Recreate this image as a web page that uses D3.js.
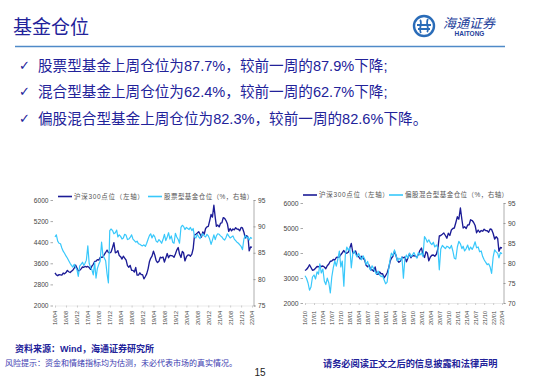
<!DOCTYPE html>
<html><head><meta charset="utf-8">
<script src="https://cdn.jsdelivr.net/npm/d3@7"></script>
<style>body{margin:0;background:#fff}svg{display:block}</style>
</head><body>
<svg id="c" width="550" height="380"></svg>
<script>
// ---------------- DATA ----------------
const titleText = "基金仓位";
const bullets = [
  "股票型基金上周仓位为87.7%，较前一周的87.9%下降;",
  "混合型基金上周仓位为62.4%，较前一周的62.7%下降;",
  "偏股混合型基金上周仓位为82.3%，较前一周的82.6%下降。"
];
// CSI300 (semi-monthly, starting 2016-04)
const csi300Start = "2016-04";
const csi300 = [
  3240,3160, 3130,3170, 3160,3150, 3230,3200, 3250,3330, 3280,3250, 3300,3340, 3420,3530, 3420,3310,
  3330,3390, 3460,3450, 3480,3460, 3480,3440, 3370,3490, 3560,3670, 3680,3740, 3720,3820, 3830,3840, 3930,4010, 4100,4010, 3990,4030,
  4200,4380, 4000,4020, 4080,3900, 3850,3760, 3870,3800, 3720,3510, 3450,3520, 3330,3330, 3270,3440, 3150,3150, 3240,3170, 3170,3010,
  3100,3200, 3400,3670, 3790,3870, 4060,3910, 3700,3630, 3680,3830, 3810,3840, 3650,3800, 3970,3810, 3900,3890, 3880,3830, 3950,4100,
  4200,3950, 3820,4050, 4000,3690, 3840,3910, 3920,3870, 3950,4160, 4680,4700, 4750,4800, 4700,4590, 4790,4700, 4920,4980, 5000,5210,
  5450,5350, 5800,5340, 5000,5050, 4980,5120, 5130,5330, 5300,5220, 5100,4810, 4920,4830, 4900,4870, 4950,4900, 4890,4830, 4960,4940,
  4780,4560, 4650,4580, 4070,4220, 4200
];
// Equity fund position % (semi-monthly, starting 2016-04)
const equityFundStart = "2016-04";
const equityFundPos = [
  88.0,88.4, 87.2,86.8, 86.7,85.9, 85.3,84.9, 84.4,84.0, 83.5,83.0, 82.6,82.3, 82.8,82.2, 81.8,80.5,
  82.5,82.8, 83.2,82.6, 83.0,83.6, 86.3,83.0, 82.2,81.8, 80.8,83.2, 80.2,82.0, 82.8,83.4, 87.0,84.5, 84.0,83.5, 81.0,79.3, 89.2,89.5,
  89.2,88.6, 88.8,89.3, 88.0,88.4, 88.1,87.6, 87.8,88.5, 88.3,87.5, 87.6,87.9, 88.4,87.6, 87.3,87.0, 87.2,86.7, 86.6,86.4, 86.3,86.5,
  86.2,86.8, 87.6,88.3, 88.6,87.8, 88.4,88.0, 87.2,87.0, 87.5,87.2, 86.8,87.5, 88.5,87.3, 88.0,88.8, 87.6,88.2, 87.0,86.8, 88.7,88.0,
  87.5,86.8, 89.8,90.2, 90.0,89.4, 89.8,89.6, 89.4,89.8, 89.2,89.6, 88.0,87.8, 88.5,88.0, 87.7,88.3, 88.6,88.2, 88.0,88.5, 88.2,87.6,
  86.6,87.4, 88.4,87.5, 88.2,88.6, 88.5,88.2, 88.0,87.6, 87.4,87.9, 88.6,88.2, 87.8,88.0, 88.2,87.6, 87.3,87.0, 86.8,86.5, 86.2,85.6,
  87.6,88.3, 87.8,88.0, 87.4,87.9, 87.7
];
// Equity-biased hybrid fund position % (semi-monthly, starting 2016-10)
const mixedFundStart = "2016-10";
const mixedFundPos = [
  76.8,76.2, 75.0,73.2, 74.0,76.5,
  77.0,76.0, 77.8,77.2, 79.8,77.5, 78.5,75.5, 74.6,76.2, 75.0,72.5, 76.5,78.8, 80.5,79.2, 81.0,83.0, 79.0,80.5, 74.2,82.0, 84.0,83.2,
  83.8,78.8, 82.5,83.0, 82.2,81.5, 82.4,81.6, 80.8,81.8, 81.0,79.6, 80.4,79.0, 78.2,79.3, 78.6,77.8, 77.2,78.0, 77.0,76.6, 76.8,75.8,
  74.8,75.2, 78.5,81.0, 82.5,81.8, 83.3,82.0, 80.5,81.2, 80.8,81.5, 76.2,81.0, 82.0,81.2, 82.5,81.6, 82.0,82.6, 81.8,81.2, 82.6,82.0,
  82.5,81.6, 86.6,86.0, 85.2,85.8, 85.0,84.6, 85.2,84.0, 84.5,83.8, 78.3,83.5, 84.4,84.0, 83.6,84.2, 84.0,83.6, 84.4,83.0, 81.2,81.0,
  84.0,85.4, 84.8,83.6, 84.2,83.0, 83.6,84.5, 83.2,84.0, 83.4,84.2, 85.3,83.8, 84.0,82.8, 83.0,81.6, 80.8,80.2, 79.6,79.8, 79.0,77.4,
  81.5,83.3, 82.8,82.4, 81.3,82.6, 82.3
];
const leftXLabels = ["16/04","16/08","16/12","17/04","17/08","17/12","18/04","18/08","18/12","19/04","19/08","19/12","20/04","20/08","20/12","21/04","21/08","21/12","22/04"];
const rightXLabels = ["16/10","17/01","17/04","17/07","17/10","18/01","18/04","18/07","18/10","19/01","19/04","19/07","19/10","20/01","20/04","20/07","20/10","21/01","21/04","21/07","21/10","22/01","22/04"];
const leftChartIndexTicks = [2000,2800,3600,4400,5200,6000];
const leftChartFundTicks = [75,80,85,90,95];
const rightChartIndexTicks = [2000,3000,4000,5000,6000];
const rightChartFundTicks = [70,75,80,85,90,95];
const legendIndex = "沪深300点位（左轴）";
const legendEquity = "股票型基金仓位（%，右轴）";
const legendMixed = "偏股混合型基金仓位（%，右轴）";
const sourceText = "资料来源：Wind，海通证券研究所";
const riskText = "风险提示：资金和情绪指标均为估测，未必代表市场的真实情况。";
const disclaimText = "请务必阅读正文之后的信息披露和法律声明";
const pageNo = "15";

// ---------------- HELPERS ----------------
const parseYM = d3.timeParse("%Y-%m");
const parseLbl = d3.timeParse("%y/%m");
function series(start, vals) {
  const s = parseYM(start);
  return vals.map((v, i) => {
    const m = d3.timeMonth.offset(s, Math.floor(i / 2));
    return { date: i % 2 ? d3.timeDay.offset(m, 15) : m, value: v };
  });
}
const NAVY = "#22229a";
const DARK = "#1c1c96";
const LIGHT = "#38c8fb";
const FONT = "'Liberation Sans','Noto Sans CJK SC',sans-serif";

const svg = d3.select("#c");

// ---------------- HEADER ----------------
svg.append("text").attr("x", 13).attr("y", 33.5).attr("font-family", FONT)
  .attr("font-size", 19).attr("fill", NAVY).text(titleText);
svg.append("line").attr("x1", 15).attr("x2", 505).attr("y1", 46.5).attr("y2", 46.5)
  .attr("stroke", "#4f8ac8").attr("stroke-width", 1.5);
// logo
const lg = svg.append("g").attr("transform", "translate(424,26)");
lg.append("circle").attr("r", 10).attr("fill", "none").attr("stroke", "#2a6cb8").attr("stroke-width", 2.4);
lg.append("path").attr("d", "M-7,-1 H7 M-4,-6 C-1,-3 -6,3 -3,7 M4,-7 C1,-3 6,3 3,6 M-6,3 H6")
  .attr("fill", "none").attr("stroke", "#2a6cb8").attr("stroke-width", 1.8);
svg.append("text").attr("x", 443).attr("y", 28).attr("font-family", FONT).attr("font-size", 13)
  .attr("font-style", "italic").attr("fill", "#23409a").text("海通证券");
svg.append("text").attr("x", 469.5).attr("y", 36).attr("text-anchor", "middle").attr("font-family", "'Liberation Sans',sans-serif")
  .attr("font-size", 6.5).attr("font-weight", "bold").attr("fill", "#23409a").text("HAITONG");

// ---------------- BULLETS ----------------
bullets.forEach((b, i) => {
  const y = 70.5 + i * 26.7;
  svg.append("text").attr("x", 19).attr("y", y - 1).attr("font-family", "'DejaVu Sans',sans-serif")
    .attr("font-size", 13).attr("font-weight", "bold").attr("fill", NAVY).text("✓");
  svg.append("text").attr("x", 38).attr("y", y).attr("font-family", FONT)
    .attr("font-size", 14.6).attr("fill", NAVY).text(b);
});

// ---------------- CHARTS ----------------
function drawChart(cfg) {
  const g = svg.append("g");
  const x = d3.scaleTime().domain([parseLbl(cfg.xLabels[0]), parseLbl(cfg.xLabels[cfg.xLabels.length - 1])]).range([cfg.x0, cfg.x1]);
  const yL = d3.scaleLinear().domain(d3.extent(cfg.leftTicks)).range([cfg.yB, cfg.yT]);
  const yR = d3.scaleLinear().domain(d3.extent(cfg.rightTicks)).range([cfg.yB, cfg.yT]);

  // left axis (no domain line)
  const al = g.append("g").attr("transform", `translate(${cfg.x0 - 2},0)`)
    .call(d3.axisLeft(yL).tickValues(cfg.leftTicks).tickSize(2.5).tickPadding(2).tickFormat(d3.format("d")));
  al.select(".domain").remove();
  al.selectAll("line").attr("stroke", "#aaa");
  al.selectAll("text").attr("font-family", "'Liberation Sans',sans-serif").attr("font-size", cfg.fs).attr("fill", "#444");

  // right axis
  const ar = g.append("g").attr("transform", `translate(${cfg.x1 + 1.5},0)`)
    .call(d3.axisRight(yR).tickValues(cfg.rightTicks).tickSize(2).tickPadding(2.5).tickFormat(d3.format("d")));
  ar.select(".domain").attr("stroke", "#999").attr("stroke-width", 0.8);
  ar.selectAll("line").attr("stroke", "#999");
  ar.selectAll("text").attr("font-family", "'Liberation Sans',sans-serif").attr("font-size", cfg.fs).attr("fill", "#444");

  // bottom axis
  const ab = g.append("g").attr("transform", `translate(0,${cfg.yB})`)
    .call(d3.axisBottom(x).tickValues(cfg.xLabels.map(parseLbl)).tickSize(2).tickFormat(d3.timeFormat("%y/%m")));
  ab.select(".domain").attr("stroke", "#ddd").attr("stroke-width", 0.6);
  ab.selectAll("line").attr("stroke", "#ccc");
  ab.selectAll("text").attr("font-family", "'Liberation Sans',sans-serif").attr("font-size", 5.6).attr("fill", "#444")
    .attr("text-anchor", "end").attr("transform", "rotate(-90)").attr("x", -(cfg.labY - cfg.yB)).attr("y", 0).attr("dy", "0.35em");

  // lines
  const lineL = d3.line().x(d => x(d.date)).y(d => yL(d.value));
  const lineR = d3.line().x(d => x(d.date)).y(d => yR(d.value));
  const idx = series(csi300Start, csi300).filter(d => d.date >= x.domain()[0]);
  g.append("path").datum(idx).attr("d", lineL).attr("fill", "none").attr("stroke", DARK).attr("stroke-width", 1.35).attr("stroke-linejoin", "round");
  g.append("path").datum(series(cfg.fundStart, cfg.fund)).attr("d", lineR).attr("fill", "none").attr("stroke", LIGHT).attr("stroke-width", 1.2).attr("stroke-linejoin", "round");

  // legend
  const lgY = cfg.legY;
  g.append("line").attr("x1", cfg.leg1x).attr("x2", cfg.leg1x + 14).attr("y1", lgY).attr("y2", lgY).attr("stroke", DARK).attr("stroke-width", 1.6);
  g.append("text").attr("x", cfg.leg1x + 16).attr("y", lgY + 2.2).attr("font-family", FONT).attr("font-size", 6.5)
    .attr("letter-spacing", 0.7).attr("fill", "#555").text(legendIndex);
  g.append("line").attr("x1", cfg.leg2x).attr("x2", cfg.leg2x + 14).attr("y1", lgY).attr("y2", lgY).attr("stroke", LIGHT).attr("stroke-width", 1.6);
  g.append("text").attr("x", cfg.leg2x + 16).attr("y", lgY + 2.2).attr("font-family", FONT).attr("font-size", 6.5)
    .attr("letter-spacing", 0.45).attr("fill", "#555").text(cfg.legend2);
}

drawChart({
  x0: 55, x1: 252, yT: 200, yB: 305.5, labY: 311, fs: 6.6,
  xLabels: leftXLabels, leftTicks: leftChartIndexTicks, rightTicks: leftChartFundTicks,
  fund: equityFundPos, fundStart: equityFundStart, legend2: legendEquity,
  legY: 196.5, leg1x: 58, leg2x: 148
});
drawChart({
  x0: 305, x1: 502, yT: 203, yB: 303, labY: 311, fs: 6.8,
  xLabels: rightXLabels, leftTicks: rightChartIndexTicks, rightTicks: rightChartFundTicks,
  fund: mixedFundPos, fundStart: mixedFundStart, legend2: legendMixed,
  legY: 195, leg1x: 303, leg2x: 389
});

// ---------------- FOOTER ----------------
svg.append("text").attr("x", 15).attr("y", 352).attr("font-family", FONT).attr("font-size", 9)
  .attr("font-weight", "bold").attr("fill", NAVY).text(sourceText);
svg.append("text").attr("x", 5).attr("y", 366).attr("font-family", FONT).attr("font-size", 8)
  .attr("fill", "#3a3ab0").text(riskText);
svg.append("text").attr("x", 260).attr("y", 375.5).attr("text-anchor", "middle").attr("font-family", "'Liberation Sans',sans-serif")
  .attr("font-size", 10).attr("fill", "#222").text(pageNo);
svg.append("text").attr("x", 323).attr("y", 366.5).attr("font-family", FONT).attr("font-size", 9.2)
  .attr("font-weight", "bold").attr("fill", NAVY).text(disclaimText);
</script>
</body></html>
